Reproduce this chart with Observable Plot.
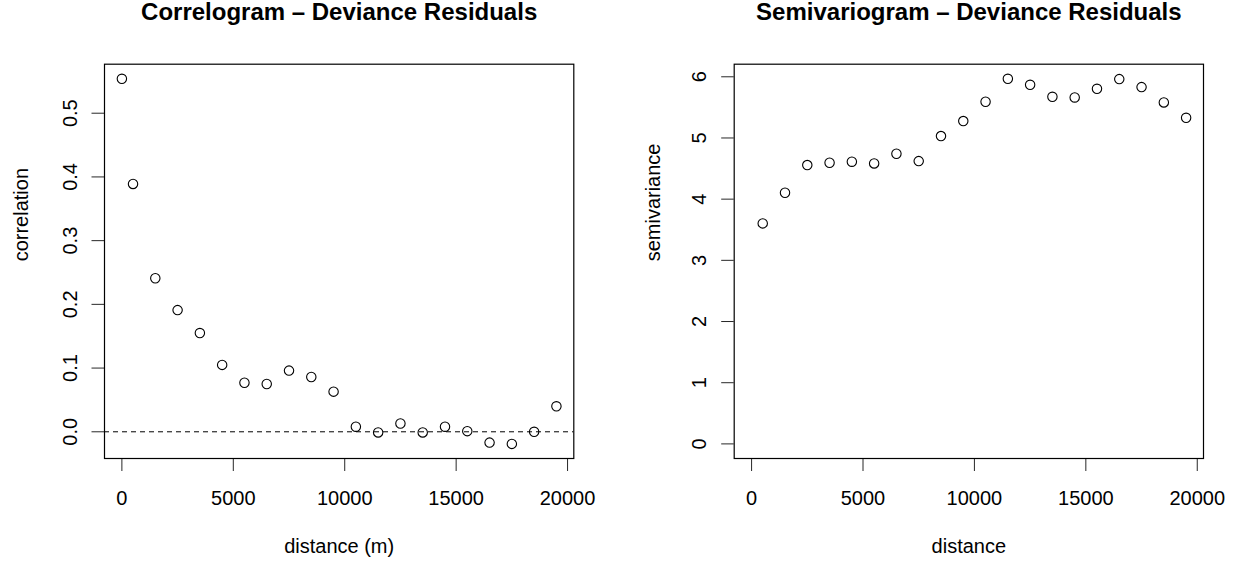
<!DOCTYPE html>
<html>
<head>
<meta charset="utf-8">
<script src="https://cdn.jsdelivr.net/npm/d3@7"></script>
<script src="https://cdn.jsdelivr.net/npm/@observablehq/plot@0.6"></script>
<style>
  html, body { margin: 0; padding: 0; background: #fff; }
  #wrap { display: flex; width: 1239px; height: 562px; }
  #wrap svg { display: block; overflow: visible; }
</style>
</head>
<body>
<div id="wrap"><div id="left"></div><div id="right"></div></div>
<script>
// ---- data ----
const corrDistance = [0, 500, 1500, 2500, 3500, 4500, 5500, 6500, 7500, 8500, 9500,
  10500, 11500, 12500, 13500, 14500, 15500, 16500, 17500, 18500, 19500];
const corrValue = [0.554, 0.389, 0.241, 0.191, 0.155, 0.105, 0.077, 0.075, 0.096, 0.086, 0.063,
  0.008, -0.001, 0.013, -0.001, 0.008, 0.001, -0.017, -0.019, 0.000, 0.040];

const semiDistance = [500, 1500, 2500, 3500, 4500, 5500, 6500, 7500, 8500, 9500,
  10500, 11500, 12500, 13500, 14500, 15500, 16500, 17500, 18500, 19500];
const semiValue = [3.604, 4.105, 4.557, 4.595, 4.612, 4.584, 4.742, 4.622, 5.031, 5.276,
  5.592, 5.967, 5.869, 5.673, 5.662, 5.804, 5.962, 5.831, 5.581, 5.330];

const xTicks = [0, 5000, 10000, 15000, 20000];
const corrTicks = [0, 0.1, 0.2, 0.3, 0.4, 0.5];
const semiTicks = [0, 1, 2, 3, 4, 5, 6];

const titles = ["Correlogram \u2013 Deviance Residuals", "Semivariogram \u2013 Deviance Residuals"];
const xLabels = ["distance (m)", "distance"];
const yLabels = ["correlation", "semivariance"];

// R-style 4% axis expansion
const expand = ([a, b]) => { const d = (b - a) * 0.04; return [a - d, b + d]; };

const corrData = corrDistance.map((d, i) => ({d, v: corrValue[i]}));
const semiData = semiDistance.map((d, i) => ({d, v: semiValue[i]}));

const font = "'Liberation Sans', Arial, Helvetica, sans-serif";

function panel({data, width, mL, mR, xDomain, yDomain, yTicks, yFmt, title, xLabel, yLabel, yLabelOff, zeroLine}) {
  const mT = 63.7, mB = 104;
  return Plot.plot({
    width, height: 562,
    marginLeft: mL, marginRight: mR, marginTop: mT, marginBottom: mB,
    style: {fontFamily: font, fontSize: "20px", background: "white", color: "black", overflow: "visible"},
    x: {domain: xDomain},
    y: {domain: yDomain},
    marks: [
      zeroLine ? Plot.ruleY([0], {stroke: "black", strokeWidth: 1, strokeDasharray: "5,4"}) : null,
      Plot.dot(data, {x: "d", y: "v", r: 4.7, stroke: "black", strokeWidth: 1.1, fill: "none"}),
      Plot.frame({stroke: "black", strokeWidth: 1.2}),
      Plot.axisX({ticks: xTicks, tickSize: 13, tickPadding: 19, fontSize: 20, tickFormat: d3.format("d"), label: null, strokeOpacity: 0.85}),
      // y ticks only
      Plot.axisY({ticks: yTicks, tickSize: 12.5, tickFormat: () => "", label: null, strokeOpacity: 0.85}),
      // y tick labels only, rotated like R (las = 0)
      Plot.axisY({ticks: yTicks, tickSize: 0, tickPadding: 28, fontSize: 20, tickFormat: yFmt,
        rotate: -90, textAnchor: "middle", lineAnchor: "bottom", label: null}),
      Plot.text([title], {frameAnchor: "top", dy: 19.3 - mT, lineAnchor: "bottom", fontWeight: "bold", fontSize: 24}),
      Plot.text([xLabel], {frameAnchor: "bottom", dy: 552 - (562 - mB), lineAnchor: "bottom", fontSize: 20}),
      Plot.text([yLabel], {frameAnchor: "left", dx: -yLabelOff, rotate: -90, lineAnchor: "bottom", fontSize: 20})
    ]
  });
}

document.getElementById("left").append(panel({
  data: corrData, width: 620, mL: 104, mR: 46.7,
  xDomain: expand([0, d3.max(corrDistance)]),
  yDomain: expand(d3.extent(corrValue)),
  yTicks: corrTicks, yFmt: d3.format(".1f"),
  title: titles[0], xLabel: xLabels[0], yLabel: yLabels[0], yLabelOff: 77, zeroLine: true
}));

document.getElementById("right").append(panel({
  data: semiData, width: 619, mL: 113.7, mR: 36,
  xDomain: expand([0, d3.max(semiDistance)]),
  yDomain: expand([0, d3.max(semiValue)]),
  yTicks: semiTicks, yFmt: d3.format("d"),
  title: titles[1], xLabel: xLabels[1], yLabel: yLabels[1], yLabelOff: 74, zeroLine: false
}));
</script>
</body>
</html>
